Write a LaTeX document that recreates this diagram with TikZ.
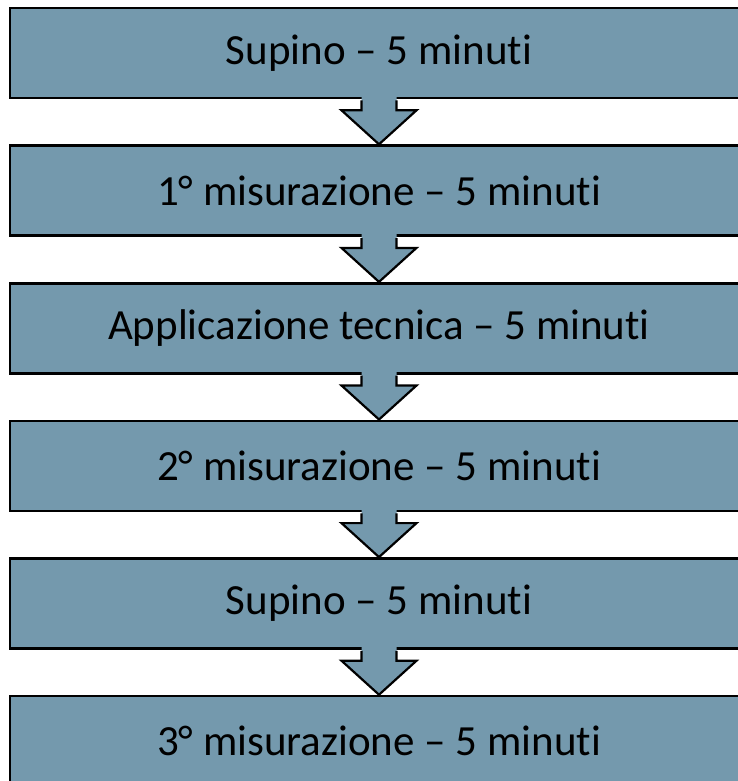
\documentclass[tikz,border=0pt]{standalone}
\usepackage{fontspec}
\setmainfont[Ligatures=NoCommon]{Carlito}
\usetikzlibrary{positioning,calc}
\definecolor{boxblue}{RGB}{116,153,173}

\begin{document}
\begin{tikzpicture}[
  x=1pt, y=-1pt,
  node distance=45pt,
  stepbox/.style={draw=black, fill=boxblue, line width=2.6pt, minimum width=738pt,
    minimum height=90pt, inner sep=0pt, font=\fontsize{43}{50}\selectfont},
  downfill/.style={fill=boxblue},
  downline/.style={draw=black, line width=2.2pt, line join=miter}
]
\useasboundingbox (0,0) rectangle (738,781);
\clip (0,0) rectangle (738,781);

\node[stepbox] (s1) at (379,53) {Supino – 5 minuti};
\node[stepbox, below=of s1] (s2) {1° misurazione – 5 minuti};
\node[stepbox, below=of s2] (s3) {Applicazione tecnica – 5 minuti};
\node[stepbox, below=of s3] (s4) {2° misurazione – 5 minuti};
\node[stepbox, below=of s4] (s5) {Supino – 5 minuti};
\node[stepbox, below=of s5] (s6) {3° misurazione – 5 minuti};

% arrows between the steps
\foreach \a/\b in {s1/s2, s2/s3, s3/s4, s4/s5, s5/s6} {
  \path[downfill] ($(\a.south)+(-17.5,-3)$) -- ($(\b.north)+(-17.5,-34)$)
    -- ($(\b.north)+(-37.5,-34)$) -- (\b.north) -- ($(\b.north)+(37.5,-34)$)
    -- ($(\b.north)+(17.5,-34)$) -- ($(\a.south)+(17.5,-3)$) -- cycle;
  \draw[downline] ($(\a.south)+(-17.5,1.2)$) -- ($(\b.north)+(-17.5,-34)$)
    -- ($(\b.north)+(-37.5,-34)$) -- (\b.north) -- ($(\b.north)+(37.5,-34)$)
    -- ($(\b.north)+(17.5,-34)$) -- ($(\a.south)+(17.5,1.2)$);
}
\end{tikzpicture}
\end{document}
